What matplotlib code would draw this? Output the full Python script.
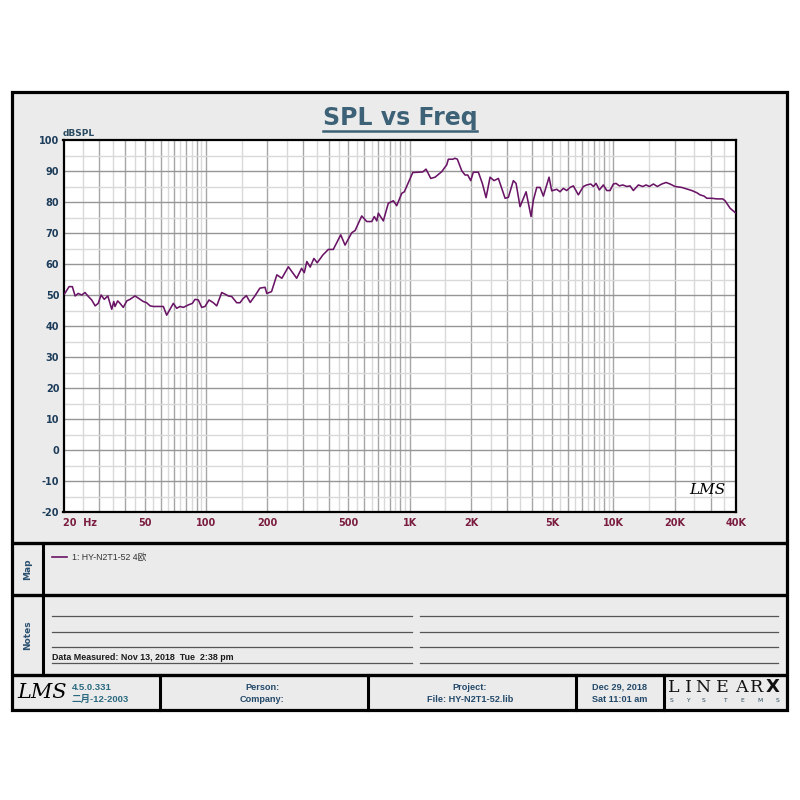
import matplotlib
matplotlib.use("Agg")
import matplotlib.pyplot as plt
from matplotlib.patches import Rectangle

plt.rcParams["font.family"] = ["DejaVu Sans", "Noto Sans CJK SC"]

freq_hz = [20.0, 20.3, 21.3, 22.1, 22.8, 23.6, 24.6, 25.5, 26.5, 27.5, 28.6, 29.6, 30.6, 31.7, 33.0,
           34.5, 35.3, 35.8, 36.9, 37.9, 39.3, 40.9, 42.4, 44.9, 47.5, 49.3, 51.2, 53.2, 55.2,
           58.4, 61.8, 64.2, 66.7, 69.2, 71.9, 74.6, 77.5, 82, 85.8, 88.4, 91.8, 95.4, 99,
           103.6, 108.8, 113, 119.6, 124, 128.8, 133.9, 141.7, 147, 152, 158, 165, 174, 184,
           195, 199, 210, 223, 236, 254, 279, 295, 304, 313, 325, 339, 352, 375, 399, 422,
           459, 482, 520, 540, 582, 616, 652, 671, 690, 702, 743, 786, 832, 864, 915, 942,
           1036, 1160, 1204, 1270, 1333, 1438, 1521, 1549, 1628, 1671, 1715, 1802, 1871,
           1929, 1995, 2054, 2175, 2275, 2373, 2482, 2597, 2727, 2942, 3053, 3230, 3330,
           3484, 3730, 3945, 4050, 4208, 4368, 4534, 4835, 4984, 5275, 5475, 5681, 5904,
           6129, 6362, 6733, 7125, 7404, 7749, 7980, 8227, 8538, 8932, 9282, 9635, 10000,
           10311, 10704, 11124, 11641, 12078, 12540, 13269, 13946, 14476, 15027, 15722,
           16444, 17284, 18144, 18987, 20089, 21668, 22934, 24265, 25681, 26656, 27886,
           28753, 30425, 32193, 34447, 35353, 37415, 39593]
spl_db = [50.2, 50.5, 52.7, 52.7, 49.7, 50.5, 50.0, 50.8, 49.5, 48.4, 46.5, 47.3, 50.0, 48.6, 49.7,
          45.4, 47.9, 46.3, 48.1, 47.3, 46.0, 48.1, 48.6, 49.7, 48.6, 47.9, 47.5, 46.5, 46.3,
          46.3, 46.3, 43.5, 45.4, 47.3, 45.7, 46.3, 46.0, 46.8, 47.3, 48.6, 48.4, 46.0, 46.3,
          48.4, 47.5, 46.5, 50.8, 50.3, 49.7, 49.5, 47.5, 47.5, 48.8, 49.8, 47.6, 49.7, 52.2,
          52.5, 50.5, 51.1, 56.5, 55.4, 59.1, 55.4, 58.6, 57.2, 60.8, 59.0, 61.8, 60.4, 62.9,
          64.7, 64.7, 69.4, 66.1, 70.1, 70.8, 75.5, 73.7, 73.7, 75.3, 73.9, 76.4, 73.9, 79.6,
          80.4, 78.8, 82.8, 83.3, 89.5, 89.7, 90.6, 87.6, 88.0, 89.8, 92.0, 93.8, 93.8, 94.1,
          93.8, 90.1, 88.7, 88.7, 86.9, 89.6, 89.6, 86.0, 81.4, 88.0, 86.9, 87.6, 81.2, 81.5,
          86.9, 86.0, 78.5, 83.3, 75.3, 80.6, 84.7, 84.7, 81.9, 88.0, 83.6, 84.1, 83.3, 84.4,
          83.7, 84.7, 85.2, 82.3, 85.0, 85.5, 85.8, 85.0, 86.0, 83.9, 85.5, 83.7, 83.7, 85.8,
          86.0, 85.2, 85.5, 85.0, 85.2, 83.7, 85.5, 85.0, 85.5, 85.0, 85.8, 85.0, 85.8, 86.3,
          85.8, 85.0, 84.7, 84.2, 83.7, 83.0, 82.3, 81.9, 81.2, 81.2, 81.0, 81.0, 80.4, 78.0,
          76.6]

x_ticks = [20, 50, 100, 200, 500, 1000, 2000, 5000, 10000, 20000, 40000]
x_labels = ["20  Hz", "50", "100", "200", "500", "1K", "2K", "5K", "10K", "20K", "40K"]
y_ticks = list(range(-20, 101, 10))

title = "SPL vs Freq"
y_unit = "dBSPL"
trace_label = "1: HY-N2T1-52 4欧"
measured = "Data Measured: Nov 13, 2018  Tue  2:38 pm"
version = ["4.5.0.331", "二月-12-2003"]
person = ["Person:", "Company:"]
project = ["Project:", "File: HY-N2T1-52.lib"]
stamp = ["Dec 29, 2018", "Sat 11:01 am"]

CURVE = "#6a1466"
PANEL = "#ebebeb"
BLUE = "#23496a"
MAROON = "#7a1d40"
NARROW = ["Liberation Sans", "Noto Sans CJK SC"]

fig = plt.figure(figsize=(8, 8), dpi=100)
fig.patch.set_facecolor("white")

# 배경 틀 (픽셀 좌표)
bg = fig.add_axes([0, 0, 1, 1], zorder=0)
bg.set_xlim(0, 800)
bg.set_ylim(800, 0)
bg.axis("off")
bg.add_patch(Rectangle((12, 92), 775, 618, facecolor=PANEL, edgecolor="black", lw=2.3))
for yy in (543, 595, 675):
    bg.plot([12, 787], [yy, yy], color="black", lw=2.4, solid_capstyle="butt")
bg.plot([43, 43], [543, 675], color="black", lw=2.2)
for xx in (160, 368, 576, 664):
    bg.plot([xx, xx], [675, 710], color="black", lw=2.2)

bg.text(400, 118, title, ha="center", va="center", fontsize=17, fontweight="bold", color="#3d6277")
bg.plot([323, 477], [131, 131], color="#3d6277", lw=1.8)
bg.text(63, 133, y_unit, ha="left", va="center", fontsize=6.5, fontweight="bold", color="#2a4a60")

# Map / Notes
bg.text(28, 569, "Map", rotation=90, ha="center", va="center", fontsize=6.5,
        fontweight="bold", color="#2a5070")
bg.text(28, 635, "Notes", rotation=90, ha="center", va="center", fontsize=6.5,
        fontweight="bold", color="#2a5070")
bg.plot([52, 67], [557, 557], color=CURVE, lw=1.2)
bg.text(72, 557, trace_label, ha="left", va="center", fontsize=6.3, family=NARROW, color="#333333")
for yy in (616, 632, 647, 663):
    bg.plot([52, 412], [yy, yy], color="#555555", lw=0.9)
    bg.plot([420, 778], [yy, yy], color="#555555", lw=0.9)
bg.text(52, 661.5, measured, ha="left", va="bottom", fontsize=6.4, fontweight="bold",
        family=NARROW, color="#1a1a1a")

# 하단 정보줄
bg.text(42, 692, "LMS", ha="center", va="center", fontsize=15, style="italic",
        family="DejaVu Serif", color="black")
bg.text(72, 687, version[0], ha="left", va="center", fontsize=6.8, fontweight="bold",
        family=NARROW, color="#2a6a80")
bg.text(72, 699, version[1], ha="left", va="center", fontsize=6.8, fontweight="bold",
        family=NARROW, color="#2a6a80")
for cx, pair in ((262, person), (470, project), (620, stamp)):
    bg.text(cx, 687, pair[0], ha="center", va="center", fontsize=6.6, fontweight="bold",
            family=NARROW, color=BLUE)
    bg.text(cx, 699, pair[1], ha="center", va="center", fontsize=6.6, fontweight="bold",
            family=NARROW, color=BLUE)
for ch, xx in zip("LINEAR", (674, 688, 703, 722, 741, 757)):
    bg.text(xx, 687, ch, ha="center", va="center", fontsize=12.5, family="DejaVu Serif",
            fontweight="light", color="#111111")
bg.text(773, 687, "X", ha="center", va="center", fontsize=13, fontweight="bold", color="#111111")
for ch, xx in zip("SYSTEMS", (671, 688, 703, 725, 742, 760, 777)):
    bg.text(xx, 701, ch, ha="center", va="center", fontsize=4.3, color="#2a4a60")

# 그래프
ax = fig.add_axes([63.5 / 800, 1 - 512 / 800, 672.5 / 800, 372 / 800], zorder=2)
ax.set_facecolor("white")
ax.set_xscale("log")
ax.set_xlim(20, 40000)
ax.set_ylim(-20, 100)

dark_v = [n * 10 ** k for k in range(1, 5) for n in range(1, 10) if 20 < n * 10 ** k < 40000]
light_v = [(n + 0.5) * 10 ** k for k in range(1, 5) for n in range(1, 10) if 20 < (n + 0.5) * 10 ** k < 40000]
for f in light_v:
    ax.axvline(f, color="#d9d9d9", lw=1.0, zorder=1)
for f in dark_v:
    ax.axvline(f, color="#a6a6a6", lw=1.0, zorder=1)
for v in range(-15, 100, 10):
    ax.axhline(v, color="#d9d9d9", lw=1.0, zorder=1)
for v in y_ticks[1:-1]:
    ax.axhline(v, color="#969696", lw=1.0, zorder=1)

ax.plot(freq_hz, spl_db, color=CURVE, lw=1.15, zorder=3)

ax.set_xticks(x_ticks)
ax.set_xticklabels(x_labels)
ax.xaxis.set_minor_locator(matplotlib.ticker.NullLocator())
ax.set_yticks(y_ticks)
ax.set_yticklabels([str(v) for v in y_ticks])
ax.tick_params(axis="x", length=0, pad=4, labelsize=7, labelcolor=MAROON)
ax.tick_params(axis="y", length=0, pad=3, labelsize=7, labelcolor="#1d3d5a")
for lbl in ax.get_xticklabels() + ax.get_yticklabels():
    lbl.set_fontweight("bold")
ax.get_xticklabels()[0].set_horizontalalignment("left")
for s in ax.spines.values():
    s.set_color("black")
    s.set_linewidth(1.6)

ax.text(0.985, 0.04, "LMS", transform=ax.transAxes, ha="right", va="bottom", fontsize=11,
        style="italic", family="DejaVu Serif", color="black", zorder=4)

fig.savefig("out.png", dpi=100, facecolor="white")
